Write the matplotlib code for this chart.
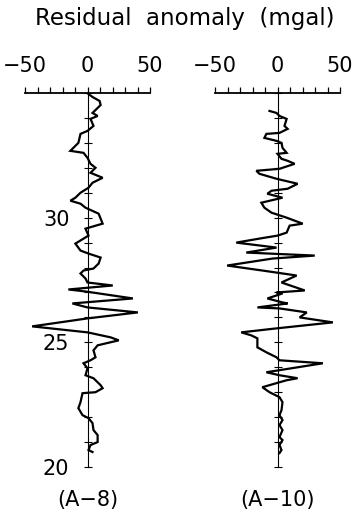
import numpy as np
import matplotlib
matplotlib.use("Agg")
import matplotlib.pyplot as plt
from matplotlib.ticker import MultipleLocator, FixedLocator

# residual anomaly profiles (mgal) against depth
depth_a8 = [34.96, 34.84, 34.68, 34.52, 34.36, 34.20, 34.08, 33.96, 33.68, 33.48,
            33.36, 33.00, 32.68, 32.60, 32.40, 32.16, 32.00, 31.80, 31.60, 31.40,
            31.20, 31.00, 30.80, 30.68, 30.56, 30.40, 30.16, 29.76, 29.56, 29.28,
            28.96, 28.68, 28.56, 28.40, 28.16, 27.96, 27.88, 27.76, 27.56, 27.40,
            27.28, 27.12, 27.04, 26.76, 26.56, 26.40, 26.20, 25.96, 25.64, 25.40,
            25.20, 25.08, 24.88, 24.68, 24.40, 24.28, 24.16, 23.96, 23.68, 23.56,
            23.28, 23.16, 23.00, 22.96, 22.60, 22.36, 22.08, 21.96, 21.76, 21.48,
            21.28, 21.00, 20.88, 20.68, 20.60]
anom_a8 = [0.8, 4.0, 9.7, 10.5, 7.3, 4.0, 8.1, 2.4, 4.8, 0.0,
           -5.6, -7.3, -13.7, -3.2, 0.0, 2.4, 6.4, 2.4, 12.1, 4.0,
           0.8, -5.6, -9.7, -13.7, -5.6, -1.6, 8.9, 12.1, -1.6, 0.8,
           -9.7, -5.6, 0.8, 10.5, 8.9, 4.8, -3.2, -5.6, -1.6, 0.0,
           20.2, -15.3, -1.6, 36.3, -12.1, 0.0, 40.3, 0.0, -44.3, 0.0,
           18.5, 25.0, 8.1, 4.8, 6.4, 2.4, -3.2, 0.0, -1.6, 4.8,
           10.5, 12.1, 6.4, -4.0, -5.6, -7.3, -4.0, 0.8, 4.0, 4.8,
           8.1, 8.1, 2.4, 0.8, 4.0]

depth_a10 = [34.28, 34.20, 34.08, 33.96, 33.68, 33.56, 33.40, 33.36, 33.20, 33.08,
             33.00, 32.80, 32.60, 32.56, 32.36, 32.28, 32.16, 31.96, 31.88, 31.76,
             31.56, 31.36, 31.16, 31.08, 30.96, 30.80, 30.60, 30.40, 30.20, 30.00,
             29.88, 29.76, 29.68, 29.40, 29.28, 29.16, 29.00, 28.96, 28.80, 28.60,
             28.48, 28.36, 28.08, 27.88, 27.68, 27.40, 27.08, 27.00, 26.96, 26.76,
             26.60, 26.56, 26.40, 26.36, 26.20, 26.00, 25.80, 25.56, 25.40, 25.28,
             25.16, 24.80, 24.60, 24.40, 24.28, 24.16, 23.80, 23.68, 23.56, 23.48,
             23.20, 23.00, 22.80, 22.60, 22.28, 22.08, 21.88, 21.68, 21.48, 21.20,
             21.08, 20.88, 20.68, 20.56]
anom_a10 = [-6.4, -0.8, 1.6, 7.3, 5.6, 8.1, 1.6, -8.9, -10.5, -0.8,
            3.2, 4.0, 7.3, 0.0, 3.2, 8.1, 13.7, 1.6, -16.9, -14.5,
            -0.8, 16.1, 8.1, -4.8, -8.1, 4.0, -12.9, -10.5, -4.8, 7.3,
            13.7, 20.2, 9.7, 7.3, 0.0, -14.5, -33.0, -26.6, -0.8, -25.0,
            29.8, -4.0, -40.3, -12.1, 15.3, 3.2, 21.8, -0.8, 4.0, -8.1,
            4.0, 8.1, -16.1, 1.6, 23.4, 17.7, 44.3, -0.8, -29.0, -21.0,
            -16.1, -16.1, -8.9, -0.8, 1.6, 36.3, -8.9, 1.6, 16.1, 7.3,
            -12.1, -6.4, 1.6, 4.0, 3.2, 1.6, 4.0, 1.6, 4.0, 1.6,
            4.0, 1.6, 3.2, 1.6]

profiles = [("(A\u22128)", anom_a8, depth_a8), ("(A\u221210)", anom_a10, depth_a10)]
xticks_major = [-50, 0, 50]
ytick_labels = [20, 25, 30]

plt.rcParams['font.family'] = 'DejaVu Sans'

fig = plt.figure(figsize=(3.55, 5.16), dpi=100)
lefts = [25 / 355, 215 / 355]

for i, (name, anom, depth) in enumerate(profiles):
    ax = fig.add_axes([lefts[i], 49 / 516, 125 / 355, 374 / 516])
    ax.plot(anom, depth, color='k', lw=1.6, solid_joinstyle='miter')
    ax.set_xlim(-50, 50)
    ax.set_ylim(20, 35)

    for s in ['right', 'bottom']:
        ax.spines[s].set_visible(False)
    ax.spines['top'].set_linewidth(1.3)
    ax.spines['left'].set_position(('data', 0))
    ax.spines['left'].set_linewidth(0.8)

    # scale bar on top
    ax.xaxis.tick_top()
    ax.xaxis.set_major_locator(FixedLocator(xticks_major))
    ax.xaxis.set_minor_locator(MultipleLocator(10))
    ax.tick_params(axis='x', which='both', direction='out', length=4.5, width=0.9,
                   labelsize=15, pad=8)
    ax.set_xticklabels([str(v).replace('-', '\u2212') for v in xticks_major])

    # depth ticks as crosses on the zero line
    ax.yaxis.set_major_locator(FixedLocator(ytick_labels))
    ax.yaxis.set_minor_locator(MultipleLocator(1))
    ax.tick_params(axis='y', which='both', direction='inout', length=6, width=0.8,
                   labelsize=15, pad=10)
    if i == 0:
        ax.set_yticklabels([str(v) for v in ytick_labels])
    else:
        ax.set_yticklabels([])

    ax.text(0.5, -0.088, name, transform=ax.transAxes, ha='center', va='center',
            fontsize=15)

fig.text(0.521, 0.965, "Residual  anomaly  (mgal)", ha='center', va='center',
         fontsize=16.5)

plt.savefig("out.png", dpi=100)
